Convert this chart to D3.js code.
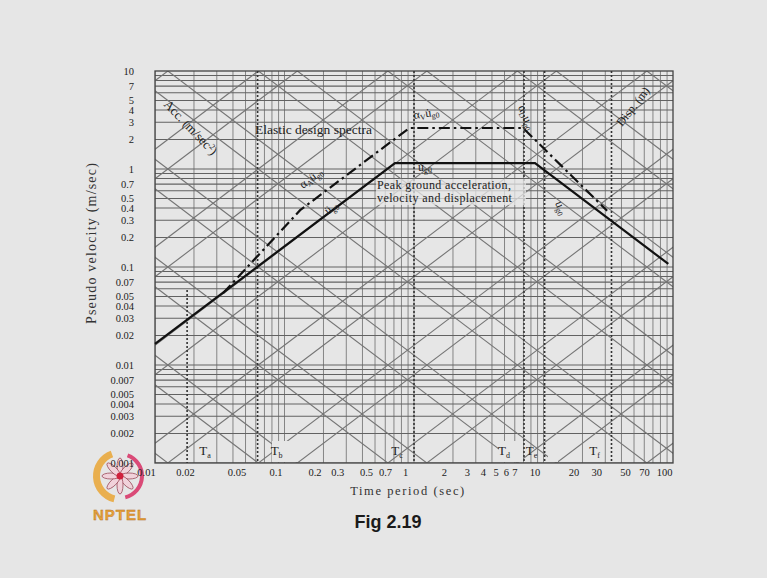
<!DOCTYPE html>
<html>
<head>
<meta charset="utf-8">
<script src="https://cdn.jsdelivr.net/npm/d3@7"></script>
<style>
  html, body { margin: 0; padding: 0; background: #e6e6e6; }
  svg { display: block; }
  text { font-family: "Liberation Serif", "DejaVu Serif", serif; }
</style>
</head>
<body>
<svg id="chart" width="767" height="578"></svg>
<script>
// ---- data -------------------------------------------------------------
const periodTicks = [0.01, 0.02, 0.05, 0.1, 0.2, 0.3, 0.5, 0.7, 1, 2, 3, 4, 5, 6, 7, 10, 20, 30, 50, 70, 100];
const velocityTicks = [10, 7, 5, 4, 3, 2, 1, 0.7, 0.5, 0.4, 0.3, 0.2, 0.1, 0.07, 0.05, 0.04, 0.03, 0.02,
                       0.01, 0.007, 0.005, 0.004, 0.003, 0.002, 0.001];
const gridMantissas = [1, 2, 3, 4, 5, 6, 7, 8, 9];
const dispMantissas = [1, 2];          // constant-displacement lines (m)
const accMantissas = [1, 5];           // constant-acceleration lines (m/s^2)

// peak ground motion (acceleration, velocity, displacement branches)
const groundPeriods  = [0.01, 0.713, 8.6, 92];
const groundVelocity = [0.0164, 1.15, 1.15, 0.1075];

// elastic design spectrum
const designPeriods  = [0.0335, 0.132, 0.92, 6.95, 31];
const designVelocity = [0.054, 0.38, 2.62, 2.62, 0.375];

// spectral region boundaries
const regionNames   = ["a", "b", "c", "d", "e", "f"];
const regionPeriods = [0.0177, 0.062, 1.0, 7.07, 10.2, 33.5];

// ---- layout -----------------------------------------------------------
const svg = d3.select("#chart");
const L = 155, R = 673, T = 71, B = 463;
const x = d3.scaleLog().domain([0.01, 100]).range([L, R]);
const y = d3.scaleLog().domain([0.001, 10]).range([B, T]);
const TWO_PI = 2 * Math.PI;

svg.append("defs").append("clipPath").attr("id", "plotClip")
  .append("rect").attr("x", L).attr("y", T).attr("width", R - L).attr("height", B - T);

const grid = svg.append("g").attr("clip-path", "url(#plotClip)");

// vertical grid (period)
const vLines = [];
for (let e = -2; e < 2; e++) gridMantissas.forEach(m => vLines.push(m * Math.pow(10, e)));
grid.selectAll("line.v").data(vLines).join("line")
  .attr("x1", d => x(d)).attr("x2", d => x(d)).attr("y1", T).attr("y2", B)
  .attr("stroke", "#858585").attr("stroke-width", 1);

// horizontal grid (pseudo velocity)
const hLines = [];
for (let e = -3; e < 1; e++) gridMantissas.forEach(m => hLines.push(m * Math.pow(10, e)));
grid.selectAll("line.h").data(hLines).join("line")
  .attr("x1", L).attr("x2", R).attr("y1", d => y(d)).attr("y2", d => y(d))
  .attr("stroke", "#626262").attr("stroke-width", 1.2);

// diagonal grid: constant displacement V = 2*pi*D/T, constant acceleration V = A*T/(2*pi)
const diag = d3.line().x(d => x(d[0])).y(d => y(d[1]));
const dispLines = [], accLines = [];
for (let e = -7; e <= 3; e++) {
  dispMantissas.forEach(m => dispLines.push(m * Math.pow(10, e)));
  accMantissas.forEach(m => accLines.push(m * Math.pow(10, e)));
}
grid.selectAll("path.disp").data(dispLines).join("path")
  .attr("d", D => diag([[0.005, TWO_PI * D / 0.005], [200, TWO_PI * D / 200]]))
  .attr("fill", "none").attr("stroke", "#747474").attr("stroke-width", 1.1);
grid.selectAll("path.acc").data(accLines).join("path")
  .attr("d", A => diag([[0.005, A * 0.005 / TWO_PI], [200, A * 200 / TWO_PI]]))
  .attr("fill", "none").attr("stroke", "#747474").attr("stroke-width", 1.1);

// label patches that interrupt the grid near the region labels
const bg = "#e6e6e6";
[[272, 441, 25, 21], [499, 441, 24, 21], [548, 441, 10, 21]].forEach(r =>
  svg.append("rect").attr("x", r[0]).attr("y", r[1]).attr("width", r[2]).attr("height", r[3]).attr("fill", bg));

// frame
svg.append("rect").attr("x", L).attr("y", T).attr("width", R - L).attr("height", B - T)
  .attr("fill", "none").attr("stroke", "#444").attr("stroke-width", 1.3);

// region boundaries (dotted)
const regionTop = [290, T, T, T, T, T];
svg.selectAll("line.region").data(regionPeriods).join("line")
  .attr("x1", d => x(d)).attr("x2", d => x(d))
  .attr("y1", (d, i) => regionTop[i]).attr("y2", B)
  .attr("stroke", "#333").attr("stroke-width", 1.6).attr("stroke-dasharray", "2,2");

const regionLabelDx = [18, 19, -17, -20, -13, -17];
const regionLabels = svg.selectAll("text.region").data(regionNames).join("text")
  .attr("x", (d, i) => x(regionPeriods[i]) + regionLabelDx[i]).attr("y", 455)
  .attr("text-anchor", "middle").attr("font-size", 13).attr("fill", "#222");
regionLabels.append("tspan").text("T");
regionLabels.append("tspan").attr("font-size", 8).attr("dy", 3).text(d => d);

// ---- curves -----------------------------------------------------------
const curve = d3.line().x(d => x(d[0])).y(d => y(d[1]));
svg.append("path")
  .attr("d", curve(groundPeriods.map((p, i) => [p, groundVelocity[i]])))
  .attr("fill", "none").attr("stroke", "#111").attr("stroke-width", 2.2);
svg.append("path")
  .attr("d", curve(designPeriods.map((p, i) => [p, designVelocity[i]])))
  .attr("fill", "none").attr("stroke", "#111").attr("stroke-width", 2.2)
  .attr("stroke-dasharray", "11,4,2.5,4");

// ---- logo -------------------------------------------------------------
const logo = svg.append("g").attr("transform", "translate(120,476)");
const arc = d3.arc();
logo.append("path").attr("d", arc({innerRadius: 20, outerRadius: 27, startAngle: -2.9, endAngle: -0.35}))
  .attr("fill", "#e9a83e").attr("opacity", 0.9);
logo.append("path").attr("d", arc({innerRadius: 20, outerRadius: 24, startAngle: 0.35, endAngle: 2.9}))
  .attr("fill", "#d8386a").attr("opacity", 0.9);
d3.range(8).forEach(i => {
  logo.append("ellipse").attr("cx", 0).attr("cy", -9).attr("rx", 3).attr("ry", 9)
    .attr("transform", `rotate(${i * 45})`)
    .attr("fill", "#f1d2da").attr("stroke", "#9a4a5a").attr("stroke-width", 0.8);
});
logo.append("circle").attr("r", 3.5).attr("fill", "#d0203c");
svg.append("text").attr("x", 120).attr("y", 520).attr("text-anchor", "middle")
  .style("font-family", "'Liberation Sans', Arial, sans-serif")
  .attr("font-size", 15).attr("font-weight", "bold").attr("letter-spacing", 1)
  .attr("fill", "#e9a23a").attr("stroke", "#b07020").attr("stroke-width", 0.4).text("NPTEL");

// ---- axes -------------------------------------------------------------
const xAxis = svg.append("g").attr("transform", `translate(0,${B})`)
  .call(d3.axisBottom(x).tickValues(periodTicks).tickFormat(d => String(d)).tickSize(0).tickPadding(6));
xAxis.select(".domain").remove();
xAxis.selectAll("text").attr("dx", -9).attr("font-size", 10.5)
  .style("font-family", "'Liberation Serif', serif").attr("fill", "#222");

const yAxis = svg.append("g").attr("transform", `translate(${L},0)`)
  .call(d3.axisLeft(y).tickValues(velocityTicks).tickFormat(d => String(d)).tickSize(0).tickPadding(21));
yAxis.select(".domain").remove();
yAxis.selectAll("text").attr("font-size", 10.5)
  .style("font-family", "'Liberation Serif', serif").attr("fill", "#222");

svg.append("text").attr("x", 408).attr("y", 495).attr("text-anchor", "middle")
  .attr("font-size", 12.5).attr("letter-spacing", 1.6).attr("fill", "#333").text("Time period (sec)");
svg.append("text").attr("transform", "translate(96,243) rotate(-90)").attr("text-anchor", "middle")
  .attr("font-size", 14).attr("letter-spacing", 1.2).attr("fill", "#333").text("Pseudo velocity (m/sec)");

// ---- annotations ------------------------------------------------------
function note(px, py, angle, size, parts, spacing) {
  const t = svg.append("text").attr("transform", `translate(${px},${py}) rotate(${angle})`)
    .attr("font-size", size).attr("fill", "#222").attr("letter-spacing", spacing || 0);
  parts.forEach(p => t.append("tspan").attr("font-size", p[1] ? size * 0.65 : size)
    .attr("dy", p[2] || 0).text(p[0]));
  return t;
}
note(255, 134, 0, 13.5, [["Elastic design spectra"]]);
note(163, 105, 46, 13, [["Acc. (m/sec"], ["2", true, -4], [")", false, 4]]);
note(622, 127, -52, 12, [["Disp. (m)"]]);

// text patch behind the peak ground motion caption
svg.append("rect").attr("x", 376).attr("y", 179).attr("width", 150).attr("height", 26).attr("fill", bg).attr("opacity", 0.75);
note(377, 189, 0, 12, [["Peak ground acceleration,"]], 0.4);
note(377, 202, 0, 12, [["velocity and displacement"]], 0.4);

note(303, 189, -37, 12, [["\u03b1"], ["A", true, 2], ["\u00fc", false, -2], ["g0", true, 2]]);
note(328, 215, -37, 12, [["\u00fc"], ["g0", true, 2]]);
note(414, 119, -8, 12, [["\u03b1"], ["V", true, 2], ["u\u0307", false, -2], ["g0", true, 2]]);
note(418, 171, 0, 12, [["u\u0307"], ["g0", true, 2]]);
note(518, 107, 68, 12, [["\u03b1"], ["D", true, 2], ["u", false, -2], ["g0", true, 2]]);
note(555, 203, 68, 12, [["u"], ["g0", true, 2]]);

// caption
svg.append("text").attr("x", 388).attr("y", 528).attr("text-anchor", "middle")
  .style("font-family", "'Liberation Sans', Arial, sans-serif")
  .attr("font-size", 18).attr("font-weight", "bold").attr("fill", "#1a1a1a").text("Fig 2.19");
</script>
</body>
</html>
